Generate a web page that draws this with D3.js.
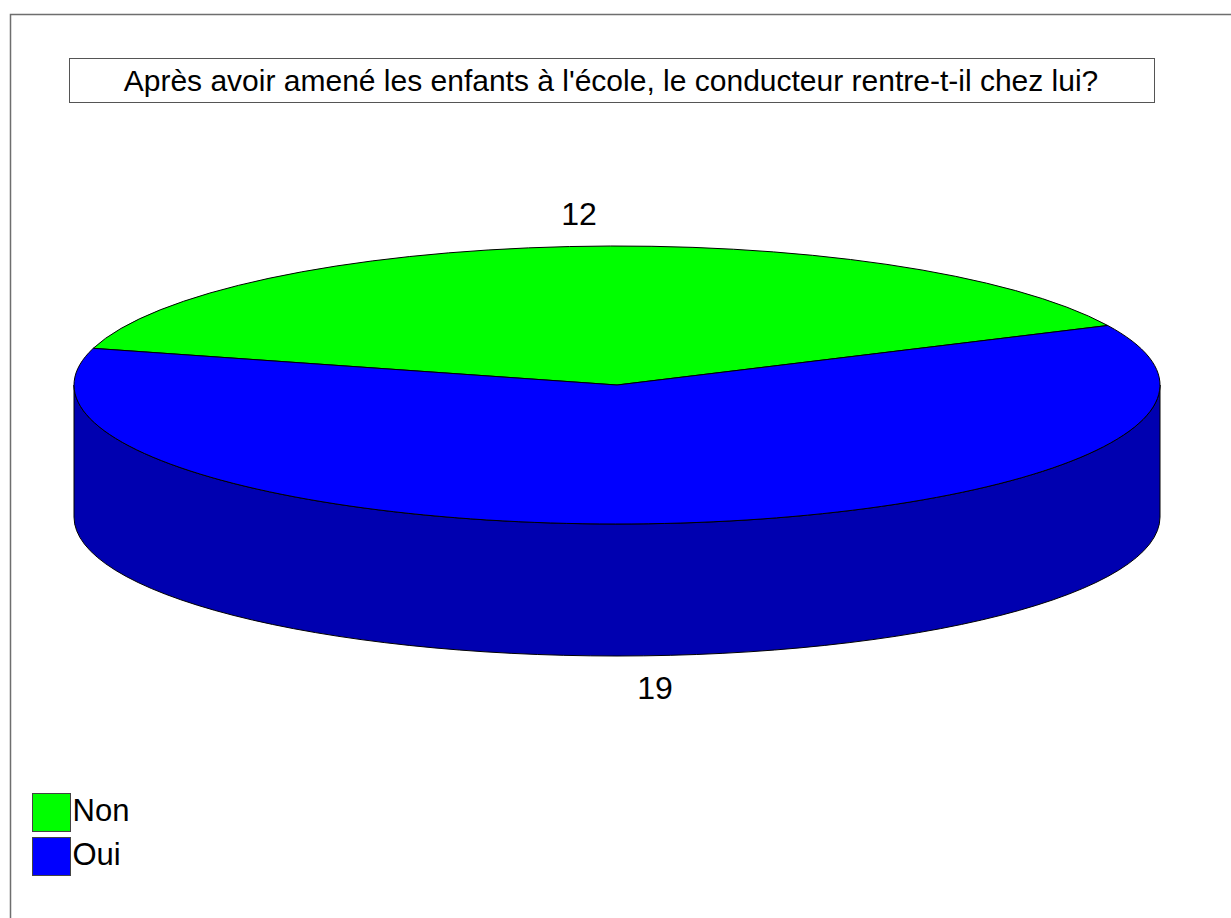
<!DOCTYPE html>
<html>
<head>
<meta charset="utf-8">
<script src="https://cdn.jsdelivr.net/npm/d3@7"></script>
<style>
  body { margin: 0; background: #fff; }
  text { font-family: "Liberation Sans", Arial, sans-serif; fill: #000; }
</style>
</head>
<body>
<div id="chart"></div>
<script>
// data
const title = "Après avoir amené les enfants à l'école, le conducteur rentre-t-il chez lui?";
const categories = ["Non", "Oui"];
const values = [12, 19];
const topColors = ["#00ff00", "#0000ff"];
const sideColors = ["#00b000", "#0000b0"];

const W = 1231, H = 918;
const cx = 617, cy = 385, rx = 543, ry = 139, depth = 132;

const svg = d3.select("#chart").append("svg")
    .attr("width", W)
    .attr("height", H);

// outer frame (only left + top visible)
svg.append("path")
    .attr("d", `M10.5,${H} L10.5,14.5 L${W},14.5`)
    .attr("fill", "none")
    .attr("stroke", "#6e6e6e")
    .attr("stroke-width", 1.5);

// title box
svg.append("rect")
    .attr("x", 69.5).attr("y", 58.5)
    .attr("width", 1085).attr("height", 44)
    .attr("fill", "#fff")
    .attr("stroke", "#555")
    .attr("stroke-width", 1);

svg.append("text")
    .attr("x", 611).attr("y", 91)
    .attr("text-anchor", "middle")
    .style("font-size", "30px")
    .text(title);

const deg = Math.PI / 180;
const pie = d3.pie().sort(null)
    .startAngle(-74.7 * deg)
    .endAngle(285.3 * deg);
const arcs = pie(values);

// point on the ellipse, d3 angle convention (clockwise from 12 o'clock)
const pt = (a, dy = 0) => [cx + rx * Math.sin(a), cy - ry * Math.cos(a) + dy];

function sidePath(a0, a1) {
    const p0 = pt(a0), p1 = pt(a1), q1 = pt(a1, depth), q0 = pt(a0, depth);
    const large = (a1 - a0) > Math.PI ? 1 : 0;
    return `M${p0} A${rx},${ry} 0 ${large} 1 ${p1} L${q1} A${rx},${ry} 0 ${large} 0 ${q0} Z`;
}

function topPath(a0, a1) {
    const p0 = pt(a0), p1 = pt(a1);
    const large = (a1 - a0) > Math.PI ? 1 : 0;
    return `M${cx},${cy} L${p0} A${rx},${ry} 0 ${large} 1 ${p1} Z`;
}

// visible side walls: front half, angles 90..270 deg (mod 360)
const sides = [];
arcs.forEach((d, i) => {
    for (let k = -1; k <= 1; k++) {
        const lo = Math.max(d.startAngle, Math.PI / 2 + k * 2 * Math.PI);
        const hi = Math.min(d.endAngle, 1.5 * Math.PI + k * 2 * Math.PI);
        if (hi > lo) sides.push({ i, a0: lo, a1: hi });
    }
});

svg.append("g").selectAll("path")
    .data(sides)
    .join("path")
    .attr("d", d => sidePath(d.a0, d.a1))
    .attr("fill", d => sideColors[d.i])
    .attr("stroke", "#000")
    .attr("stroke-width", 1)
    .attr("stroke-linejoin", "round");

svg.append("g").selectAll("path")
    .data(arcs)
    .join("path")
    .attr("d", d => topPath(d.startAngle, d.endAngle))
    .attr("fill", (d, i) => topColors[i])
    .attr("stroke", "#000")
    .attr("stroke-width", 1)
    .attr("stroke-linejoin", "round");

// value labels outside the slices
svg.append("g").selectAll("text")
    .data(arcs)
    .join("text")
    .attr("text-anchor", "middle")
    .attr("dominant-baseline", "central")
    .style("font-size", "32px")
    .attr("x", d => cx + rx * 0.8 * Math.sin((d.startAngle + d.endAngle) / 2))
    .attr("y", d => {
        const m = (d.startAngle + d.endAngle) / 2;
        const c = -Math.cos(m);
        return cy + c * (ry + 33) + (c > 0 ? depth : 0);
    })
    .text(d => d.data);

// legend
const legend = svg.append("g").selectAll("g")
    .data(categories)
    .join("g")
    .attr("transform", (d, i) => `translate(32.5,${793.5 + i * 44})`);

legend.append("rect")
    .attr("width", 38).attr("height", 38)
    .attr("fill", (d, i) => topColors[i])
    .attr("stroke", "#444")
    .attr("stroke-width", 1);

legend.append("text")
    .attr("x", 40).attr("y", 27)
    .style("font-size", "31px")
    .text(d => d);
</script>
</body>
</html>
